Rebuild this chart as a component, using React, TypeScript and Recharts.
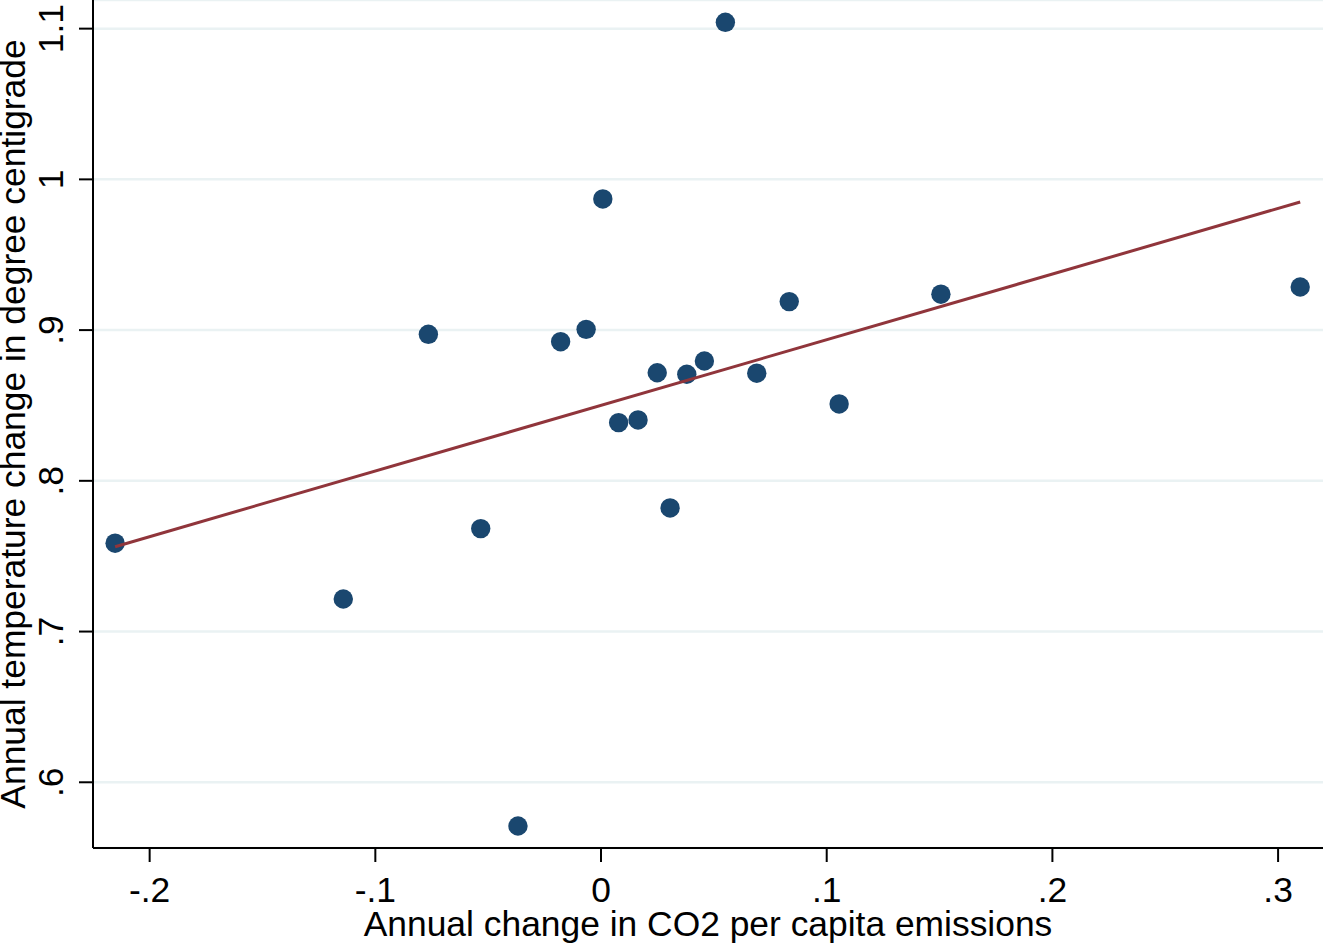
import { ScatterChart, Scatter, XAxis, YAxis, CartesianGrid } from "recharts";

// values
const co2Change = [
  -0.2153, -0.1142, -0.0765, -0.0533, -0.0368, -0.0179, -0.0066, 0.0008, 0.0078, 0.0164,
  0.0249, 0.0306, 0.038, 0.0458, 0.0551, 0.069, 0.0834, 0.1055, 0.1506, 0.3098,
];
const tempChange = [
  0.7586, 0.7216, 0.8972, 0.7683, 0.571, 0.8923, 0.9005, 0.987, 0.8386, 0.8404,
  0.8717, 0.782, 0.8707, 0.8795, 1.1042, 0.8714, 0.9189, 0.851, 0.9238, 0.9286,
];
// fitted line end points
const fitX = [-0.2153, 0.3098];
const fitY = [0.7563, 0.985];

const xTicks = [-0.2, -0.1, 0, 0.1, 0.2, 0.3];
const yTicks = [0.6, 0.7, 0.8, 0.9, 1, 1.1];

const xTitle = "Annual change in CO2 per capita emissions";
const yTitle = "Annual temperature change in degree centigrade";

const points = co2Change.map((x, i) => ({ x, y: tempChange[i] }));
const fit = fitX.map((x, i) => ({ x, y: fitY[i] }));

const FONT = "'Liberation Sans', Arial, Helvetica, sans-serif";
const NAVY = "#1a476f";
const MAROON = "#90353b";
const FS = 35.4;

// Stata style labels: -.2, .1, 0, 1.1
const fmt = (v: number) => {
  const s = String(Math.round(v * 10) / 10);
  return s.replace(/^(-?)0\./, "$1.");
};

const XTick = (props: any) => (
  <text x={props.x} y={902} textAnchor="middle" fontSize={FS} fontFamily={FONT} fill="#000">
    {fmt(props.payload.value)}
  </text>
);

const YTick = (props: any) => (
  <text
    x={63}
    y={props.y}
    transform={`rotate(-90 63 ${props.y})`}
    textAnchor="middle"
    fontSize={FS}
    fontFamily={FONT}
    fill="#000"
  >
    {fmt(props.payload.value)}
  </text>
);

const XTitle = () => (
  <text x={708} y={936} textAnchor="middle" fontSize={FS} fontFamily={FONT} fill="#000">
    {xTitle}
  </text>
);

const YTitle = () => (
  <text
    x={25}
    y={424}
    transform="rotate(-90 25 424)"
    textAnchor="middle"
    fontSize={FS}
    fontFamily={FONT}
    fill="#000"
  >
    {yTitle}
  </text>
);

const Dot = (props: any) => <circle cx={props.cx} cy={props.cy} r={9.7} fill={NAVY} />;

export default function App() {
  return (
    <div style={{ position: "absolute", left: 0, top: 0, width: 1323, height: 943, background: "#fff" }}>
      <ScatterChart width={1323} height={943} margin={{ top: 0, right: 0, bottom: 0, left: 0 }}>
        <CartesianGrid vertical={false} stroke="#eaf2f3" strokeWidth={2.5} />
        <XAxis
          type="number"
          dataKey="x"
          domain={[-0.2251, 0.3199]}
          allowDataOverflow
          ticks={xTicks}
          interval={0}
          height={95}
          axisLine={{ stroke: "#000", strokeWidth: 2 }}
          tickLine={{ stroke: "#000", strokeWidth: 2 }}
          tickSize={14}
          tick={<XTick />}
          label={{ content: <XTitle /> }}
        />
        <YAxis
          type="number"
          dataKey="y"
          domain={[0.5564, 1.119]}
          allowDataOverflow
          ticks={yTicks}
          interval={0}
          width={93}
          axisLine={{ stroke: "#000", strokeWidth: 2 }}
          tickLine={{ stroke: "#000", strokeWidth: 2 }}
          tickSize={14}
          tick={<YTick />}
          label={{ content: <YTitle /> }}
        />
        <Scatter data={points} shape={<Dot />} isAnimationActive={false} />
        <Scatter
          data={fit}
          line={{ stroke: MAROON, strokeWidth: 3 }}
          shape={() => <g />}
          isAnimationActive={false}
        />
      </ScatterChart>
    </div>
  );
}
